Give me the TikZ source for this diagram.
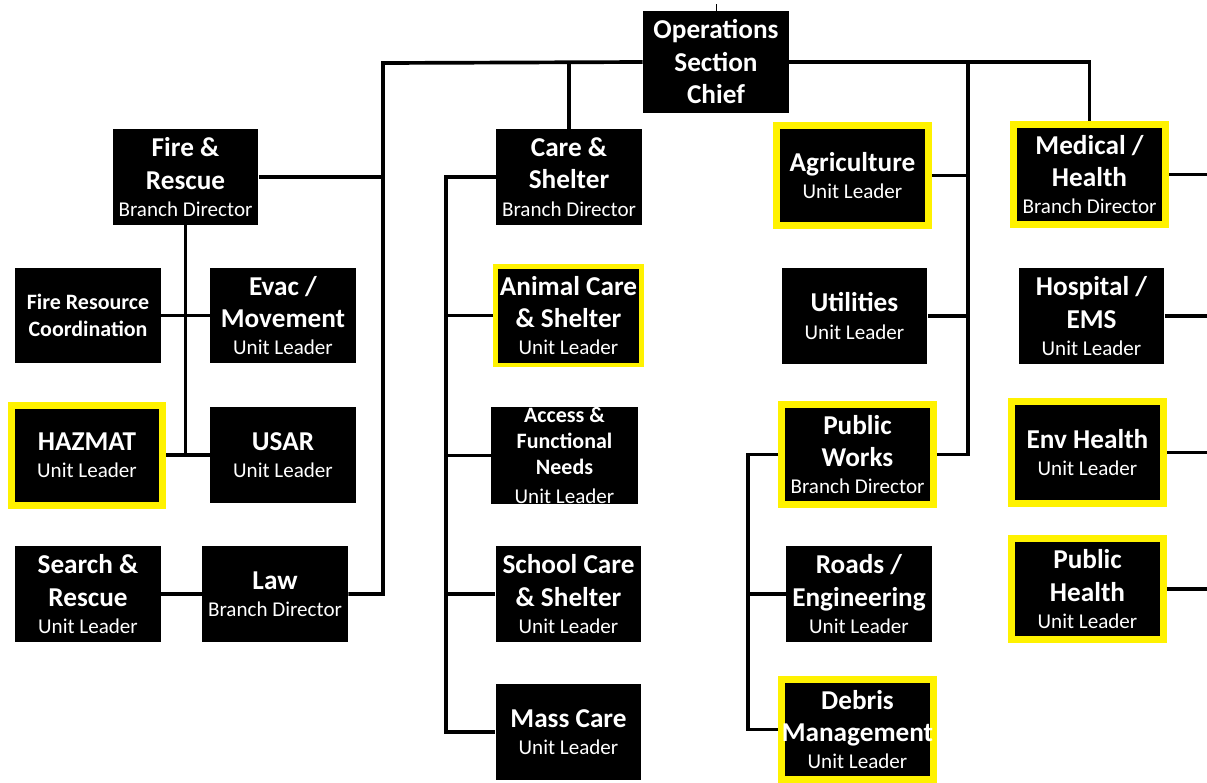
\documentclass[tikz,border=0pt]{standalone}
\usepackage{fontspec}
\setmainfont{Carlito}
\newcommand{\rolename}[2][-3pt]{\\[#1]{\mdseries\fontsize{12}{14}\selectfont #2}}

\begin{document}
\begin{tikzpicture}[x=0.02cm,y=-0.02cm]
   \tikzset{box/.style = {fill=black, text=white, align=center, inner sep=0pt,
            minimum width=2.92cm, minimum height=1.92cm,
            font=\fontsize{15.5}{18.5}\selectfont\bfseries}}
   \tikzset{hilite/.style = {box, draw=yellow, line width=0.14cm,
            minimum width=3.04cm, minimum height=2cm}}
   \tikzset{smallhead/.style = {font=\fontsize{12.5}{15}\selectfont\bfseries}}
   \tikzset{link/.style = {line width=2.1pt}}
   \fill[white] (0,0) rectangle (1207,782);
   \useasboundingbox (0,0) rectangle (1207,782);
   \node[box, minimum height=2.04cm] (ops) at (716,62) {Operations\\Section\\Chief};
   \node[box] (fire) at (185.5,177) {Fire \&\\Rescue\rolename{Branch Director}};
   \node[box] (care) at (569,177) {Care \&\\Shelter\rolename{Branch Director}};
   \node[hilite] (agri) at (852.5,175.5) {Agriculture\rolename{Unit Leader}};
   \node[hilite] (med) at (1089.5,174.5) {Medical /\\Health\rolename{Branch Director}};
   \node[box, smallhead] (frc) at (88,315.5) {Fire Resource\\Coordination};
   \node[box] (evac) at (283,315.5) {Evac /\\Movement\rolename{Unit Leader}};
   \node[hilite, line width=0.09cm, minimum width=2.93cm, minimum height=1.97cm] (animal)
        at (568.5,315.5) {Animal Care\\\& Shelter\rolename{Unit Leader}};
   \node[box] (util) at (854.5,316) {Utilities\rolename{Unit Leader}};
   \node[box] (hosp) at (1091.5,316) {Hospital /\\EMS\rolename{Unit Leader}};
   \node[hilite] (hazmat) at (87,455) {HAZMAT\rolename{Unit Leader}};
   \node[box] (usar) at (283,455) {USAR\rolename{Unit Leader}};
   \node[box, smallhead, minimum width=2.94cm] (access) at (564.5,455.5)
        {Access \&\\Functional\\Needs\rolename[1.5pt]{Unit Leader}};
   \node[hilite] (works) at (857.5,454.5) {Public\\Works\rolename{Branch Director}};
   \node[hilite, minimum height=2.04cm] (env) at (1087.5,452.5) {Env Health\rolename{Unit Leader}};
   \node[box] (search) at (88,594) {Search \&\\Rescue\rolename{Unit Leader}};
   \node[box] (law) at (275,594) {Law\rolename{Branch Director}};
   \node[box] (school) at (568.5,594) {School Care\\\& Shelter\rolename{Unit Leader}};
   \node[box] (roads) at (859,594) {Roads /\\Engineering\rolename{Unit Leader}};
   \node[hilite, minimum height=2.02cm] (pubhealth) at (1087.5,589) {Public\\Health\rolename{Unit Leader}};
   \node[box] (mass) at (568.5,732) {Mass Care\rolename{Unit Leader}};
   \node[hilite] (debris) at (857.5,729.5) {Debris\\Management\rolename{Unit Leader}};
   \coordinate (lbus) at (383,63);
   \coordinate (rbus) at (968,63);
   \coordinate (cspine) at (446,0);
   \coordinate (wspine) at (748,0);
   \coordinate (redge) at (1207,0);
   \coordinate (ttop) at (716,4);
   \draw[link] (law.east) -| (lbus) -- (ops.west);
   \draw[link] (ops.east) -| (med.north);
   \draw[thin] (ops.north) -- (ttop);
   \draw[link] (fire.east) -- (fire.east -| lbus);
   \draw[link] (care.north) -- (care.north |- lbus);
   \draw[link] (works.east) -| (rbus);
   \draw[link] (agri.east) -- (agri.east -| rbus);
   \draw[link] (util.east) -- (util.east -| rbus);
   \draw[link] (fire.south) -- (fire.south |- usar.west);
   \draw[link] (frc) -- (evac);
   \draw[link] (hazmat) -- (usar);
   \draw[link] (search) -- (law);
   \draw[link] (care.west) -| (cspine |- mass.west) -- (mass.west);
   \foreach \n in {animal, access, school}
      \draw[link] (\n.west) -- (\n.west -| cspine);
   \draw[link] (works.west) -| (wspine |- debris.west) -- (debris.west);
   \draw[link] (roads.west) -- (roads.west -| wspine);
   \foreach \n in {med, hosp, env, pubhealth}
      \draw[link] (\n.east) -- (\n.east -| redge);
\end{tikzpicture}
\end{document}
